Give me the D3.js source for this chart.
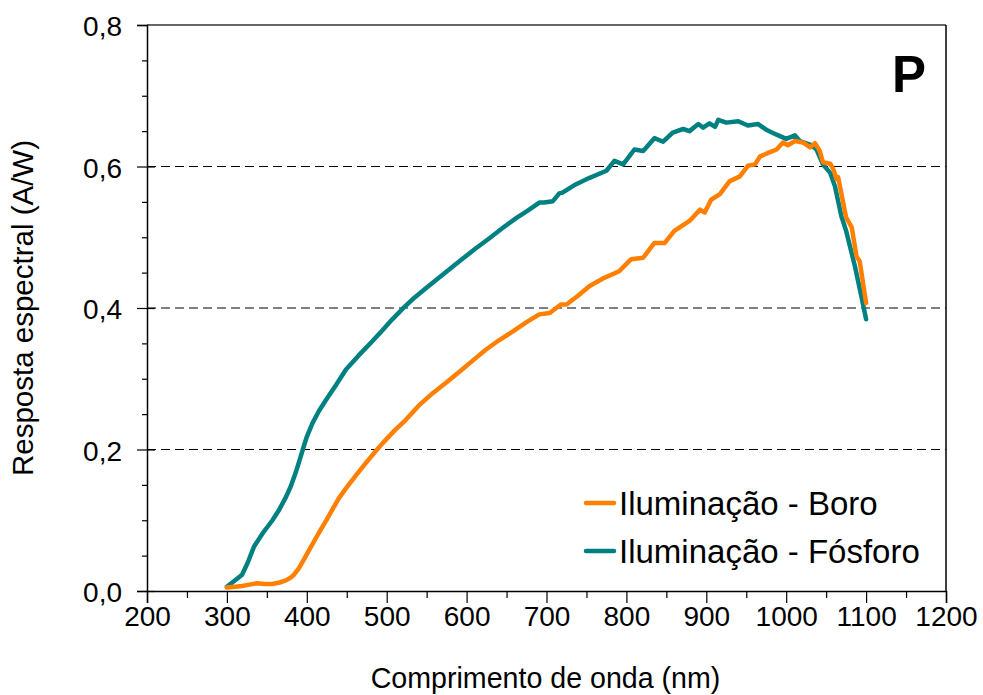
<!DOCTYPE html>
<html>
<head>
<meta charset="utf-8">
<script src="https://cdn.jsdelivr.net/npm/d3@7"></script>
<style>
  html, body { margin: 0; padding: 0; background: #fff; }
  svg { display: block; font-family: "Liberation Sans", Arial, sans-serif; }
</style>
</head>
<body>
<svg id="chart" width="983" height="695"></svg>
<script>
// Spectral response (A/W) vs wavelength (nm)
const seriesNames = ["Iluminação - Boro", "Iluminação - Fósforo"];
const seriesColors = ["#ff8000", "#008080"];

const boroNm = [300, 310, 319, 328, 338, 347, 357, 366, 374, 380, 384, 390, 395, 405, 415, 424, 432, 440, 449, 462,
  474, 485, 495, 510, 524, 540, 558, 575, 591, 608, 624, 640, 658, 675, 691, 704, 718, 725, 739, 754,
  773, 791, 806, 821, 835, 848, 860, 879, 892, 898, 906, 917, 929, 942, 952, 961, 967, 979, 988, 996,
  1002, 1011, 1021, 1030, 1036, 1042, 1046, 1055, 1059, 1063, 1065, 1075, 1082, 1088, 1092, 1100];
const boroResp = [0.005, 0.006, 0.007, 0.009, 0.011, 0.010, 0.010, 0.012, 0.015, 0.019, 0.023, 0.032, 0.042, 0.062, 0.082, 0.099, 0.115, 0.131, 0.145, 0.164,
  0.181, 0.196, 0.209, 0.227, 0.242, 0.262, 0.280, 0.295, 0.310, 0.326, 0.341, 0.354, 0.367, 0.380, 0.391, 0.393, 0.405, 0.405, 0.417, 0.431,
  0.443, 0.452, 0.469, 0.471, 0.492, 0.492, 0.509, 0.523, 0.539, 0.535, 0.553, 0.561, 0.579, 0.586, 0.601, 0.603, 0.614, 0.620, 0.624, 0.634,
  0.630, 0.636, 0.634, 0.627, 0.633, 0.622, 0.606, 0.604, 0.596, 0.582, 0.585, 0.528, 0.514, 0.473, 0.466, 0.407];

const fosforoNm = [300, 310, 319, 326, 334, 345, 357, 366, 374, 380, 386, 391, 395, 400, 407, 415, 424, 437, 449, 465,
  482, 495, 507, 520, 532, 549, 570, 591, 610, 629, 645, 662, 677, 691, 697, 708, 716, 720, 737, 754,
  775, 785, 796, 810, 821, 835, 846, 858, 871, 879, 890, 896, 904, 911, 915, 925, 940, 952, 965, 975,
  988, 1000, 1011, 1017, 1030, 1038, 1046, 1055, 1061, 1069, 1075, 1086, 1094, 1100];
const fosforoResp = [0.006, 0.015, 0.023, 0.040, 0.063, 0.082, 0.100, 0.116, 0.133, 0.148, 0.167, 0.185, 0.200, 0.218, 0.237, 0.254, 0.270, 0.292, 0.313, 0.333,
  0.353, 0.369, 0.384, 0.399, 0.412, 0.428, 0.447, 0.466, 0.483, 0.499, 0.513, 0.527, 0.538, 0.549, 0.549, 0.551, 0.562, 0.563, 0.575, 0.584,
  0.594, 0.608, 0.603, 0.624, 0.622, 0.640, 0.635, 0.648, 0.653, 0.650, 0.660, 0.655, 0.661, 0.656, 0.666, 0.662, 0.664, 0.658, 0.660, 0.652,
  0.645, 0.639, 0.644, 0.636, 0.631, 0.624, 0.603, 0.591, 0.572, 0.530, 0.509, 0.459, 0.417, 0.384];

const xMajorTicks = [200, 300, 400, 500, 600, 700, 800, 900, 1000, 1100, 1200];
const xMinorTicks = [250, 350, 450, 550, 650, 750, 850, 950, 1050, 1150];
const yMajorTicks = [0, 0.2, 0.4, 0.6, 0.8];
const yMinorTicks = [0.05, 0.1, 0.15, 0.25, 0.3, 0.35, 0.45, 0.5, 0.55, 0.65, 0.7, 0.75];
const yGridTicks = [0.2, 0.4, 0.6];

const svg = d3.select("#chart");
const plotL = 147, plotR = 946, plotT = 25, plotB = 591;

const x = d3.scaleLinear().domain([200, 1200]).range([plotL, plotR]);
const y = d3.scaleLinear().domain([0, 0.8]).range([plotB, plotT]);
const fmt = v => d3.format(".1f")(v).replace(".", ",");

// dashed horizontal gridlines
svg.append("g").selectAll("line").data(yGridTicks).join("line")
  .attr("x1", plotL).attr("x2", plotR)
  .attr("y1", d => y(d)).attr("y2", d => y(d))
  .attr("stroke", "#000").attr("stroke-width", 1)
  .attr("stroke-dasharray", "9,5");

// frame: top and right edges
svg.append("line").attr("x1", plotL).attr("x2", plotR).attr("y1", plotT).attr("y2", plotT)
  .attr("stroke", "#333").attr("stroke-width", 1.5);
svg.append("line").attr("x1", plotR).attr("x2", plotR).attr("y1", plotT).attr("y2", plotB)
  .attr("stroke", "#000").attr("stroke-width", 1.5);

// curves
const line = d3.line().x(d => x(d[0])).y(d => y(d[1]));
const boro = boroNm.map((n, i) => [n, boroResp[i]]);
const fosforo = fosforoNm.map((n, i) => [n, fosforoResp[i]]);
[[fosforo, seriesColors[1]], [boro, seriesColors[0]]].forEach(([data, color]) => {
  svg.append("path").datum(data)
    .attr("d", line)
    .attr("fill", "none")
    .attr("stroke", color)
    .attr("stroke-width", 4.5)
    .attr("stroke-linejoin", "round")
    .attr("stroke-linecap", "round");
});

function styleAxis(g) {
  g.select(".domain").attr("stroke", "#000").attr("stroke-width", 1.5);
  g.selectAll(".tick line").attr("stroke", "#000").attr("stroke-width", 1.2);
  g.selectAll("text").attr("font-family", "'Liberation Sans', Arial, sans-serif")
    .attr("font-size", 28).attr("fill", "#000");
}

// x axis
svg.append("g").attr("transform", `translate(0,${plotB})`)
  .call(d3.axisBottom(x).tickValues(xMinorTicks).tickSize(7).tickFormat(""))
  .call(g => g.select(".domain").remove())
  .call(styleAxis);
svg.append("g").attr("transform", `translate(0,${plotB})`)
  .call(d3.axisBottom(x).tickValues(xMajorTicks).tickSize(12).tickPadding(3).tickFormat(d3.format("d")))
  .call(styleAxis);

// y axis
svg.append("g").attr("transform", `translate(${plotL},0)`)
  .call(d3.axisLeft(y).tickValues(yMinorTicks).tickSize(5).tickFormat(""))
  .call(g => g.select(".domain").remove())
  .call(styleAxis);
svg.append("g").attr("transform", `translate(${plotL},0)`)
  .call(d3.axisRight(y).tickValues(yMajorTicks.slice(0, 4)).tickSize(8).tickFormat(""))
  .call(g => g.select(".domain").remove())
  .call(styleAxis);
svg.append("g").attr("transform", `translate(${plotL},0)`)
  .call(d3.axisLeft(y).tickValues(yMajorTicks).tickSize(10).tickPadding(15).tickFormat(fmt))
  .call(styleAxis)
  .call(g => g.selectAll("text").attr("dy", "0.38em"));

// axis titles
svg.append("text")
  .attr("x", (plotL + plotR) / 2 - 1).attr("y", 688)
  .attr("text-anchor", "middle").attr("font-size", 28.6).attr("fill", "#000")
  .text("Comprimento de onda (nm)");
svg.append("text")
  .attr("transform", `translate(33,${(plotT + plotB) / 2}) rotate(-90)`)
  .attr("text-anchor", "middle").attr("font-size", 29.5).attr("fill", "#000")
  .text("Resposta espectral (A/W)");

// panel letter
svg.append("text")
  .attr("x", 892).attr("y", 92)
  .attr("font-size", 51).attr("font-weight", "bold").attr("fill", "#000")
  .text("P");

// legend
const legend = svg.append("g");
seriesNames.forEach((name, i) => {
  const ly = 503 + i * 48;
  legend.append("line")
    .attr("x1", 586).attr("x2", 614).attr("y1", ly).attr("y2", ly)
    .attr("stroke", seriesColors[i]).attr("stroke-width", 4.5).attr("stroke-linecap", "round");
  legend.append("text")
    .attr("x", 619).attr("y", ly + 12)
    .attr("font-size", 33).attr("fill", "#000")
    .text(name);
});
</script>
</body>
</html>
